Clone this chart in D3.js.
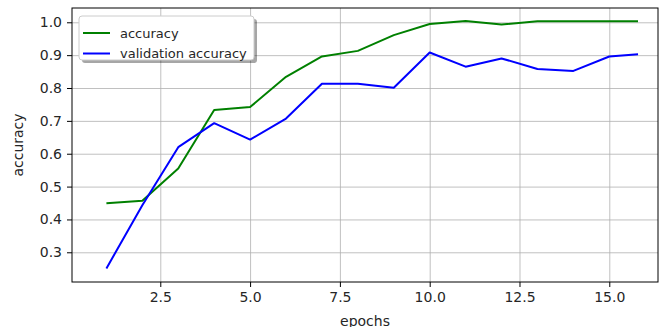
<!DOCTYPE html>
<html>
<head>
<meta charset="utf-8">
<script src="https://cdn.jsdelivr.net/npm/d3@7"></script>
<style>
    body { margin: 0; background: #fff; }
    text { font-family: "DejaVu Sans", sans-serif; fill: #262626; }
    .grid line { stroke: #b0b0b0; stroke-width: 0.8; }
    .grid .domain { display: none; }
</style>
</head>
<body>
<svg id="chart" width="660" height="327"></svg>
<script>
// values
var epochs = [1, 2, 3, 4, 5, 6, 7, 8, 9, 10, 11, 12, 13, 14, 15, 15.8];
var accuracy = [0.449, 0.457, 0.555, 0.733, 0.742, 0.834, 0.896, 0.913, 0.961, 0.995, 1.004, 0.993, 1.003, 1.003, 1.003, 1.003];
var val_accuracy = [0.251, 0.443, 0.620, 0.693, 0.643, 0.707, 0.813, 0.813, 0.801, 0.908, 0.865, 0.890, 0.858, 0.852, 0.896, 0.903];
var xTicks = [2.5, 5.0, 7.5, 10.0, 12.5, 15.0];
var yTicks = [0.3, 0.4, 0.5, 0.6, 0.7, 0.8, 0.9, 1.0];
var seriesNames = ["accuracy", "validation accuracy"];
var seriesColors = ["green", "blue"];

var svg = d3.select("#chart"),
    margin = { top: 8, right: 2, bottom: 45, left: 72 },
    width = +svg.attr("width") - margin.left - margin.right,
    height = +svg.attr("height") - margin.top - margin.bottom;

var x = d3.scaleLinear().domain([0.042, 16.356]).range([0, width]),
    y = d3.scaleLinear().domain([0.2096, 1.0435]).range([height, 0]);

var g = svg.append("g")
    .attr("transform", "translate(" + margin.left + "," + margin.top + ")");

// grid
g.append("g")
    .attr("class", "grid")
    .attr("transform", "translate(0," + height + ")")
    .call(d3.axisBottom(x).tickValues(xTicks).tickSize(-height).tickFormat(""));
g.append("g")
    .attr("class", "grid")
    .call(d3.axisLeft(y).tickValues(yTicks).tickSize(-width).tickFormat(""));

// lines
var data = [accuracy, val_accuracy];
data.forEach(function (vals, i) {
    var line = d3.line()
        .x(function (d, j) { return x(epochs[j]); })
        .y(function (d) { return y(d); });
    g.append("path")
        .datum(vals)
        .attr("fill", "none")
        .attr("stroke", seriesColors[i])
        .attr("stroke-width", 2)
        .attr("stroke-linejoin", "round")
        .attr("d", line);
});

// frame
g.append("rect")
    .attr("width", width)
    .attr("height", height)
    .attr("fill", "none")
    .attr("stroke", "#000")
    .attr("stroke-width", 1);

// axes
var xAxis = g.append("g")
    .attr("transform", "translate(0," + height + ")")
    .call(d3.axisBottom(x).tickValues(xTicks).tickSize(5).tickPadding(5).tickFormat(d3.format(".1f")));
var yAxis = g.append("g")
    .call(d3.axisLeft(y).tickValues(yTicks).tickSize(5).tickPadding(5).tickFormat(d3.format(".1f")));
[xAxis, yAxis].forEach(function (a) {
    a.select(".domain").remove();
    a.selectAll("line").attr("stroke", "#000");
    a.selectAll("text").style("font-size", "14px").attr("fill", "#262626");
});

// axis labels
g.append("text")
    .attr("x", width / 2)
    .attr("y", height + 44)
    .attr("text-anchor", "middle")
    .style("font-size", "14px")
    .text("epochs");
g.append("text")
    .attr("transform", "translate(" + (18 - margin.left) + "," + (height / 2) + ") rotate(-90)")
    .attr("text-anchor", "middle")
    .attr("dy", "0.35em")
    .style("font-size", "14px")
    .text("accuracy");

// legend
var legend = g.append("g").attr("transform", "translate(7,8)");
legend.append("rect")
    .attr("x", 3).attr("y", 3)
    .attr("width", 175).attr("height", 44)
    .attr("rx", 3)
    .attr("fill", "#000").attr("opacity", 0.35);
legend.append("rect")
    .attr("width", 175).attr("height", 44)
    .attr("rx", 3)
    .attr("fill", "#fff")
    .attr("stroke", "#cccccc");
seriesNames.forEach(function (name, i) {
    var yy = 17 + i * 20.5;
    legend.append("line")
        .attr("x1", 4).attr("x2", 31)
        .attr("y1", yy).attr("y2", yy)
        .attr("stroke", seriesColors[i])
        .attr("stroke-width", 2);
    legend.append("text")
        .attr("x", 41)
        .attr("y", yy)
        .attr("dy", "0.35em")
        .style("font-size", "13px")
        .text(name);
});
</script>
</body>
</html>
